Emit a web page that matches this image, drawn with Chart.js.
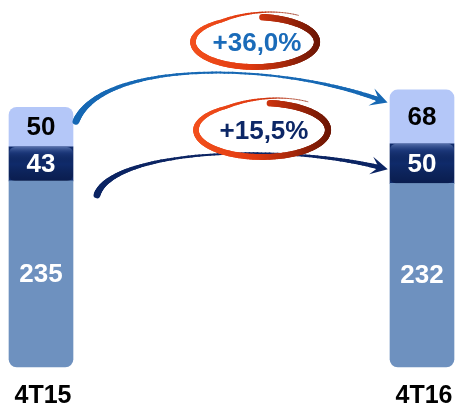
<!DOCTYPE html>
<html>
<head>
<meta charset="utf-8">
<script src="https://cdn.jsdelivr.net/npm/chart.js"></script>
<style>
  html, body { margin: 0; padding: 0; background: #fff; }
  #wrap { width: 457px; height: 409px; }
</style>
</head>
<body>
<div id="wrap"><canvas id="c"></canvas></div>
<script>
const categories = ['4T15', '4T16'];
const baseValues = [235, 232];
const midValues = [43, 50];
const topValues = [50, 68];
const growthLabels = ['+36,0%', '+15,5%'];

const FONT = '"Liberation Sans", Arial, sans-serif';

// tapered curved arrow (cubic bezier)
function drawSwoosh(ctx, p0, p1, p2, p3, color, w0, wMid, w1) {
  const pt = t => {
    const u = 1 - t;
    return {
      x: u*u*u*p0.x + 3*u*u*t*p1.x + 3*u*t*t*p2.x + t*t*t*p3.x,
      y: u*u*u*p0.y + 3*u*u*t*p1.y + 3*u*t*t*p2.y + t*t*t*p3.y
    };
  };
  ctx.save();
  ctx.strokeStyle = color;
  ctx.lineCap = 'round';
  const n = 90;
  let prev = pt(0);
  for (let i = 1; i <= n; i++) {
    const t = i / n;
    const p = pt(t);
    ctx.lineWidth = wMid + (w0 - wMid) * Math.pow(1 - t, 3) + (w1 - wMid) * Math.pow(t, 4);
    ctx.beginPath();
    ctx.moveTo(prev.x, prev.y);
    ctx.lineTo(p.x, p.y);
    ctx.stroke();
    prev = p;
  }
  const a = pt(0.96);
  const ang = Math.atan2(p3.y - a.y, p3.x - a.x);
  const len = 17, half = 9;
  const tip = { x: p3.x + Math.cos(ang) * 8, y: p3.y + Math.sin(ang) * 8 };
  const c = Math.cos(ang), s = Math.sin(ang);
  ctx.fillStyle = color;
  ctx.beginPath();
  ctx.moveTo(tip.x, tip.y);
  ctx.lineTo(tip.x - c * len + s * half, tip.y - s * len - c * half);
  ctx.lineTo(tip.x - c * len * 0.55, tip.y - s * len * 0.55);
  ctx.lineTo(tip.x - c * len - s * half, tip.y - s * len + c * half);
  ctx.closePath();
  ctx.fill();
  ctx.restore();
}

// swirl ring around a percentage
function drawRing(ctx, cx, cy, rx, ry, text, textColor) {
  ctx.save();
  const g = ctx.createLinearGradient(cx - rx, 0, cx + rx, 0);
  g.addColorStop(0, '#f24f1c');
  g.addColorStop(0.45, '#e03a10');
  g.addColorStop(1, '#6e1604');
  ctx.strokeStyle = g;
  ctx.lineCap = 'round';
  const start = -Math.PI / 2 + 0.12;
  const sweep = Math.PI * 2 + 0.55;
  const n = 160;
  const at = f => {
    const th = start + sweep * f;
    const grow = f > 0.82 ? (f - 0.82) / 0.18 : 0;
    return { x: cx + (rx + grow * 8) * Math.cos(th), y: cy + (ry + grow * 9) * Math.sin(th) };
  };
  let prev = at(0);
  for (let i = 1; i <= n; i++) {
    const f = i / n;
    const p = at(f);
    let w = 6.5 - 1.5 * f;
    if (f > 0.7) w = Math.max(0.6, 5 * (1 - (f - 0.7) / 0.3));
    ctx.lineWidth = w;
    ctx.beginPath();
    ctx.moveTo(prev.x, prev.y);
    ctx.lineTo(p.x, p.y);
    ctx.stroke();
    prev = p;
  }
  ctx.fillStyle = textColor;
  ctx.font = 'bold 26px ' + FONT;
  ctx.textAlign = 'center';
  ctx.textBaseline = 'middle';
  ctx.fillText(text, cx + 2, cy + 2);
  ctx.restore();
}

const decor = {
  id: 'decor',
  afterDatasetsDraw(chart) {
    const ctx = chart.ctx;
    const area = chart.chartArea;
    // gloss on the middle segments
    chart.getDatasetMeta(1).data.forEach(el => {
      const x = el.x - el.width / 2, h = el.base - el.y;
      const g = ctx.createLinearGradient(0, el.y, 0, el.base);
      g.addColorStop(0, 'rgba(140,165,220,0.55)');
      g.addColorStop(0.18, 'rgba(60,90,160,0.25)');
      g.addColorStop(0.5, 'rgba(0,0,0,0)');
      g.addColorStop(1, 'rgba(0,5,30,0.35)');
      ctx.save();
      ctx.fillStyle = g;
      ctx.beginPath();
      ctx.roundRect(x, el.y, el.width, h, 6);
      ctx.fill();
      ctx.restore();
    });
    // segment labels
    const colors = ['#ffffff', '#ffffff', '#000000'];
    chart.data.datasets.forEach((ds, di) => {
      chart.getDatasetMeta(di).data.forEach((el, i) => {
        ctx.save();
        ctx.fillStyle = colors[di];
        ctx.font = 'bold 26px ' + FONT;
        ctx.textAlign = 'center';
        ctx.textBaseline = 'middle';
        ctx.fillText(String(ds.data[i]), el.x, (el.y + el.base) / 2 + 1);
        ctx.restore();
      });
    });
    // category labels
    chart.getDatasetMeta(0).data.forEach((el, i) => {
      ctx.save();
      ctx.fillStyle = '#000';
      ctx.font = 'bold 25px ' + FONT;
      ctx.textAlign = 'center';
      ctx.textBaseline = 'middle';
      ctx.fillText(categories[i], el.x + 2, area.bottom + 29);
      ctx.restore();
    });
    const light = chart.getDatasetMeta(2).data;
    const dark = chart.getDatasetMeta(1).data;
    const w = light[0].width;
    const s1 = { x: light[0].x + w / 2 + 3, y: light[0].y + 14 };
    const e1 = { x: light[1].x - w / 2 - 10, y: light[1].y + 10 };
    drawSwoosh(ctx, s1, { x: s1.x + 25, y: s1.y - 60 }, { x: e1.x - 110, y: e1.y - 40 }, e1, '#1668b4', 7, 1.2, 4.5);
    const s2 = { x: dark[0].x + w / 2 + 24, y: dark[0].base + 14 };
    const e2 = { x: dark[1].x - w / 2 - 10, y: (dark[1].y + dark[1].base) / 2 + 4 };
    drawSwoosh(ctx, s2, { x: s2.x + 15, y: s2.y - 45 }, { x: e2.x - 100, y: e2.y - 25 }, e2, '#0b2463', 7, 1.2, 4.5);
    drawRing(ctx, 255, 42, 62, 25, growthLabels[0], '#1a6bb9');
    drawRing(ctx, 262, 130, 66, 27, growthLabels[1], '#0c2766');
  }
};

new Chart(document.getElementById('c'), {
  type: 'bar',
  data: {
    labels: categories,
    datasets: [
      { data: baseValues, backgroundColor: '#6e91bf', borderRadius: { bottomLeft: 8, bottomRight: 8 }, borderSkipped: false },
      { data: midValues, backgroundColor: '#0f2a6a', borderRadius: 6, borderSkipped: false },
      { data: topValues, backgroundColor: '#b4c7f8', borderRadius: { topLeft: 8, topRight: 8 }, borderSkipped: false }
    ]
  },
  options: {
    responsive: true,
    maintainAspectRatio: false,
    animation: false,
    layout: { padding: { left: 41, right: 35, top: 78, bottom: 42 } },
    datasets: { bar: { barThickness: 64, clip: false } },
    plugins: { legend: { display: false }, tooltip: { enabled: false } },
    scales: {
      x: { stacked: true, offset: false, display: false },
      y: { stacked: true, display: false, min: 0, max: 365 }
    }
  },
  plugins: [decor]
});
</script>
</body>
</html>
